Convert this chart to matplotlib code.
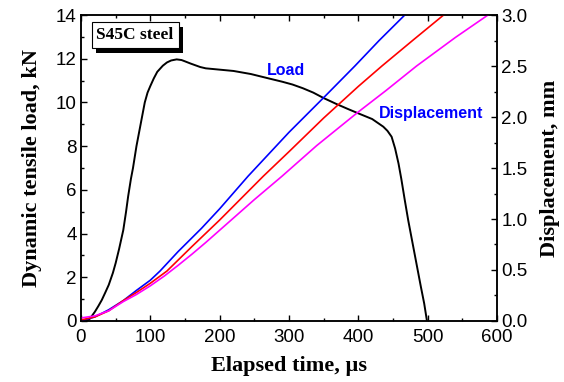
import matplotlib
matplotlib.use('Agg')
import matplotlib.pyplot as plt
import matplotlib.patheffects as pe
from matplotlib.ticker import MultipleLocator, FormatStrFormatter

# LOAD CURVE (left axis, kN)
load_time = [0, 8, 12, 15, 20, 25, 30, 35, 40, 46, 50, 55, 61, 65, 68, 72, 75, 80, 86,
             92, 96, 100, 105, 110, 118, 124, 130, 138, 145, 150, 158, 165, 172, 180,
             200, 220, 245, 268, 290, 305, 320, 335, 350, 369, 385, 400, 420, 436, 442,
             448, 453, 458, 462, 467, 472, 478, 484, 490, 495, 499]
load_kn = [0.0, 0.0, 0.08, 0.2, 0.42, 0.68, 0.96, 1.3, 1.65, 2.2, 2.65, 3.3, 4.16, 5.0,
           5.7, 6.5, 7.0, 8.0, 9.0, 10.0, 10.45, 10.75, 11.1, 11.4, 11.68, 11.83, 11.92,
           11.97, 11.94, 11.88, 11.78, 11.7, 11.62, 11.56, 11.5, 11.44, 11.3, 11.12,
           10.95, 10.82, 10.65, 10.45, 10.2, 9.92, 9.7, 9.5, 9.24, 8.89, 8.7, 8.43, 7.9,
           7.2, 6.5, 5.53, 4.6, 3.6, 2.6, 1.6, 0.8, 0.0]

# DISPLACEMENT CURVES (right axis, mm)
blue_time = [0, 20, 40, 61, 80, 100, 114, 140, 174, 200, 241, 300, 350, 395, 430, 467]
blue_mm = [0.0, 0.04, 0.11, 0.2, 0.3, 0.4, 0.49, 0.68, 0.91, 1.1, 1.42, 1.85, 2.19,
           2.5, 2.75, 3.0]

red_time = [0, 20, 40, 61, 80, 100, 124, 160, 200, 263, 300, 350, 400, 434, 480, 523]
red_mm = [0.01, 0.04, 0.1, 0.2, 0.28, 0.37, 0.49, 0.73, 0.99, 1.42, 1.66, 1.99, 2.3,
          2.5, 2.76, 3.0]

mag_time = [0, 20, 40, 61, 80, 100, 120, 140, 160, 180, 220, 250, 290, 340, 400, 440,
            484, 540, 587]
mag_mm = [0.03, 0.05, 0.1, 0.19, 0.26, 0.345, 0.44, 0.545, 0.655, 0.77, 1.01, 1.19,
          1.42, 1.72, 2.05, 2.26, 2.5, 2.78, 3.0]

TICK_FONT = 'Liberation Sans'
LABEL_FONT = 'Liberation Serif'

fig = plt.figure(figsize=(5.64, 3.82), dpi=100)
ax = fig.add_axes([0.1436, 0.1597, 0.7376, 0.801])
ax2 = ax.twinx()

ax.plot(load_time, load_kn, color='black', lw=1.4)
ax2.plot(blue_time, blue_mm, color='#0000ff', lw=1.2)
ax2.plot(red_time, red_mm, color='#ff0000', lw=1.2)
ax2.plot(mag_time, mag_mm, color='#ff00ff', lw=1.2)

ax.set_xlim(0, 600)
ax.set_ylim(0, 14)
ax2.set_ylim(0, 3.0)

ax.xaxis.set_major_locator(MultipleLocator(100))
ax.xaxis.set_minor_locator(MultipleLocator(50))
ax.yaxis.set_major_locator(MultipleLocator(2))
ax.yaxis.set_minor_locator(MultipleLocator(1))
ax2.yaxis.set_major_locator(MultipleLocator(0.5))
ax2.yaxis.set_minor_locator(MultipleLocator(0.25))
ax2.yaxis.set_major_formatter(FormatStrFormatter('%.1f'))

ax.tick_params(which='both', direction='in', top=True, right=False, width=1.0)
ax.tick_params(which='major', length=4, labelsize=13.5)
ax.tick_params(axis='x', which='major', pad=6)
ax.tick_params(axis='y', which='major', pad=3)
ax.tick_params(which='minor', length=2.2)
ax2.tick_params(which='both', direction='in', width=1.0)
ax2.tick_params(which='major', length=4, labelsize=13.5, pad=3)
ax2.tick_params(which='minor', length=2.2)
for lbl in ax.get_xticklabels() + ax.get_yticklabels() + ax2.get_yticklabels():
    lbl.set_fontfamily(TICK_FONT)

for a in (ax, ax2):
    for s in a.spines.values():
        s.set_linewidth(1.1)

ax.set_xlabel('Elapsed time, \u00b5s', fontfamily=LABEL_FONT, fontweight='bold',
              fontsize=16, labelpad=7)
ax.set_ylabel('Dynamic tensile load, kN', fontfamily=LABEL_FONT, fontweight='bold',
              fontsize=16, labelpad=10)
ax2.set_ylabel('Displacement, mm', fontfamily=LABEL_FONT, fontweight='bold',
               fontsize=16, labelpad=9)

ax.text(296, 11.45, 'Load', color='#0000ff', fontfamily=TICK_FONT, fontweight='bold',
        fontsize=11.5, ha='center', va='center')
ax.text(505, 9.5, 'Displacement', color='#0000ff', fontfamily=TICK_FONT,
        fontweight='bold', fontsize=11.5, ha='center', va='center')

box = ax.text(78, 13.08, 'S45C steel', fontfamily=LABEL_FONT, fontweight='bold',
              fontsize=12.5, ha='center', va='center',
              bbox=dict(boxstyle='square,pad=0.28', facecolor='white',
                        edgecolor='black', linewidth=0.8))
box.get_bbox_patch().set_path_effects([
    pe.SimplePatchShadow(offset=(3.5, -3.5), shadow_rgbFace='black', alpha=1.0),
    pe.Normal()])

fig.savefig('out.png', dpi=100)
